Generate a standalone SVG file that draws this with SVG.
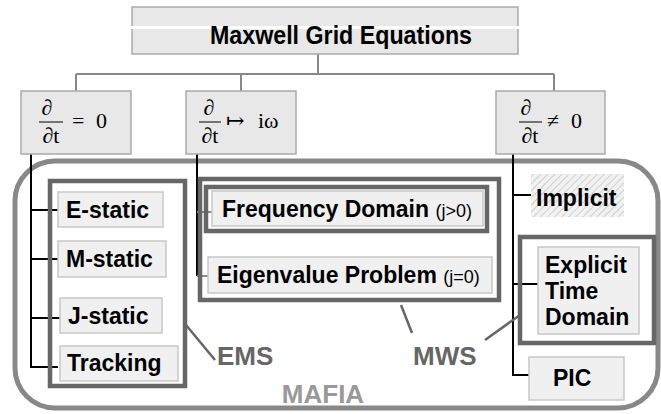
<svg xmlns="http://www.w3.org/2000/svg" width="661" height="414" viewBox="0 0 661 414">
<style>
.hb{fill:#e8e8e8;stroke:#aaa;stroke-width:1.5}
.lb{fill:#f0f0f0;stroke:#c8c8c8;stroke-width:1.5}
.grp{fill:none;stroke:#666;stroke-width:4.5}
.t{font-family:"Liberation Sans",Arial,sans-serif;font-weight:bold;font-size:23px;fill:#000}
.s{font-family:"Liberation Sans",Arial,sans-serif;font-size:18px;fill:#000}
.m{font-family:"Liberation Serif","DejaVu Serif",serif;font-size:22px;fill:#000}
.lab{font-family:"Liberation Sans",Arial,sans-serif;font-weight:bold;font-size:26px;fill:#666}
.tree{fill:none;stroke:#888;stroke-width:2}
.blk{fill:none;stroke:#000;stroke-width:2}
.tick{fill:none;stroke:#888;stroke-width:2}
.ptr{fill:none;stroke:#666;stroke-width:2.5}
</style>
<defs>
<pattern id="hatch" width="5" height="5" patternUnits="userSpaceOnUse" patternTransform="rotate(45)">
<rect width="5" height="5" fill="#f2f2f2"/>
<line x1="0" y1="0" x2="0" y2="5" stroke="#c4c4c4" stroke-width="1.5"/>
</pattern>
</defs>

<g id="mafia">
<rect x="15" y="161" width="643" height="247" rx="40" ry="40" fill="none" stroke="#888" stroke-width="5"/>
<text x="323" y="403" text-anchor="middle" class="lab" style="fill:#999">MAFIA</text>
</g>

<g id="connectors">
<path class="tree" d="M318 54V74M76 74H554M76 74V91M241 74V91M554 74V91"/>
<path class="blk" d="M31 154V367H58M31 210H58M31 259H58M31 318H60"/>
<path class="blk" d="M197 154V276"/>
<path class="tick" d="M197 212H212M197 276H208"/>
<path class="blk" d="M513 154V375H529M513 195H532M513 284H538"/>
<path class="ptr" d="M186 325L215 360M401 305L412 333M485 340L520 315"/>
</g>

<g id="top">
<rect class="hb" x="132" y="7" width="386" height="47"/>
<rect x="131" y="26" width="388" height="3" fill="#fff"/>
<text x="341" y="44" text-anchor="middle" class="t" style="font-size:25px" textLength="262" lengthAdjust="spacingAndGlyphs">Maxwell Grid Equations</text>
</g>

<g id="d0">
<rect class="hb" x="21" y="91" width="110" height="63"/>
<text x="47" y="115" text-anchor="middle" class="m">∂</text>
<line x1="39" y1="122" x2="63" y2="122" stroke="#000" stroke-width="1"/>
<text x="51" y="143" text-anchor="middle" class="m">∂t</text>
<text x="72" y="128" class="m">=</text>
<text x="96" y="128" class="m">0</text>
</g>

<g id="dw">
<rect class="hb" x="186" y="91" width="110" height="63"/>
<text x="209" y="115" text-anchor="middle" class="m">∂</text>
<line x1="199" y1="122" x2="221" y2="122" stroke="#000" stroke-width="1"/>
<text x="210" y="143" text-anchor="middle" class="m">∂t</text>
<text x="226" y="128" class="m">↦</text>
<text x="258" y="128" class="m">iω</text>
</g>

<g id="dn">
<rect class="hb" x="496" y="91" width="109" height="63"/>
<text x="526" y="115" text-anchor="middle" class="m">∂</text>
<line x1="519" y1="122" x2="542" y2="122" stroke="#000" stroke-width="1"/>
<text x="530" y="143" text-anchor="middle" class="m">∂t</text>
<text x="547" y="128" class="m">≠</text>
<text x="571" y="128" class="m">0</text>
</g>

<g id="ems">
<rect class="grp" x="50" y="181" width="135" height="205"/>
<text x="217" y="365" class="lab">EMS</text>
</g>
<g id="estatic"><rect class="lb" x="58" y="192" width="105" height="35"/><text x="66" y="218" class="t">E-static</text></g>
<g id="mstatic"><rect class="lb" x="58" y="241" width="108" height="36"/><text x="66" y="267" class="t">M-static</text></g>
<g id="jstatic"><rect class="lb" x="60" y="298" width="102" height="35"/><text x="68" y="324" class="t">J-static</text></g>
<g id="tracking"><rect class="lb" x="60" y="346" width="118" height="35"/><text x="67" y="371" class="t">Tracking</text></g>

<g id="mws">
<rect class="grp" x="200" y="179" width="299" height="121"/>
<text x="413" y="365" class="lab">MWS</text>
</g>
<g id="freq">
<rect class="grp" x="206" y="187" width="281" height="44"/>
<rect class="lb" x="212" y="191" width="271" height="35"/>
<text x="222" y="217" class="t">Frequency Domain <tspan class="s" style="font-weight:normal">(j&gt;0)</tspan></text>
</g>
<g id="eigen">
<rect class="lb" x="208" y="257" width="284" height="36"/>
<text x="217" y="283" class="t">Eigenvalue Problem <tspan class="s" style="font-weight:normal">(j=0)</tspan></text>
</g>

<g id="implicit">
<rect x="531" y="174" width="93" height="43" fill="url(#hatch)"/>
<text x="536" y="206" class="t">Implicit</text>
</g>
<g id="explicit">
<rect class="grp" x="520" y="237" width="134" height="106"/>
<rect class="lb" x="538" y="247" width="101" height="87"/>
<text class="t"><tspan x="545" y="273">Explicit</tspan><tspan x="545" y="299">Time</tspan><tspan x="545" y="325">Domain</tspan></text>
</g>
<g id="pic">
<rect class="lb" x="529" y="357" width="95" height="43"/>
<text x="553" y="386" class="t">PIC</text>
</g>
</svg>
